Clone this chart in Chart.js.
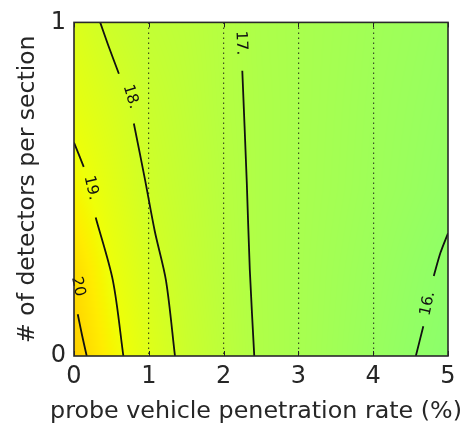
<!DOCTYPE html>
<html>
<head>
<meta charset="utf-8">
<script src="https://cdn.jsdelivr.net/npm/chart.js@4.4.1/dist/chart.umd.min.js"></script>
<style>
  html, body { margin: 0; padding: 0; background: #ffffff; }
  #wrap { width: 469px; height: 431px; }
</style>
</head>
<body>
<div id="wrap"><canvas id="c" width="469" height="431"></canvas></div>
<script>
// Travel-time surface sampled on a coarse grid (x: penetration rate %, y: detectors per section)
const gridX = [0, 0.5, 1, 1.5, 2, 2.5, 3, 3.5, 4, 4.5, 5];
const gridY = [0, 0.25, 0.5, 0.75, 1];
const zRow0   = [20.35, 19.30, 18.50, 17.86, 17.39, 16.96, 16.73, 16.50, 16.26, 16.03, 15.83];
const zRow025 = [20.00, 18.93, 18.23, 17.72, 17.30, 16.94, 16.74, 16.54, 16.34, 16.13, 15.93];
const zRow05  = [19.25, 18.60, 17.98, 17.61, 17.24, 16.93, 16.76, 16.60, 16.43, 16.27, 16.10];
const zRow075 = [18.75, 18.30, 17.82, 17.50, 17.17, 16.93, 16.77, 16.62, 16.46, 16.32, 16.18];
const zRow1   = [18.40, 17.90, 17.58, 17.40, 17.15, 16.90, 16.77, 16.65, 16.50, 16.38, 16.25];
const zRows = [zRow0, zRow025, zRow05, zRow075, zRow1];

// Contour line pieces (each level is broken where its label sits)
const contour20 = [{x:0.05,y:0.125},{x:0.11,y:0.06},{x:0.17,y:0}];
const contour19a = [{x:0,y:0.64},{x:0.13,y:0.567}];
const contour19b = [{x:0.29,y:0.415},{x:0.52,y:0.226},{x:0.66,y:0}];
const contour18a = [{x:0.35,y:1},{x:0.46,y:0.93},{x:0.60,y:0.846}];
const contour18b = [{x:0.80,y:0.697},{x:0.95,y:0.528},{x:1.08,y:0.374},{x:1.23,y:0.226},{x:1.35,y:0}];
const contour17 = [{x:2.25,y:0.855},{x:2.31,y:0.52},{x:2.35,y:0.26},{x:2.41,y:0}];
const contour16a = [{x:4.57,y:0},{x:4.67,y:0.089}];
const contour16b = [{x:4.81,y:0.24},{x:4.90,y:0.31},{x:5,y:0.368}];

// Contour labels
const labelText  = ['20', '19.', '18.', '17.', '16.'];
const labelX     = [0.053, 0.23, 0.76, 2.233, 4.73];
const labelY     = [0.208, 0.504, 0.777, 0.938, 0.157];
const labelAngle = [78, 77, 73, 88, -78];

const xTicks = [0, 1, 2, 3, 4, 5];
const yTicks = [0, 1];
const xTitle = 'probe vehicle penetration rate (%)';
const yTitle = '# of detectors per section';

const FONT = "'DejaVu Sans', sans-serif";
const TEXT = '#262626';

function jet(t) {
  const seg = (pts) => {
    if (t <= pts[0][0]) return pts[0][1];
    for (let i = 1; i < pts.length; i++) {
      if (t <= pts[i][0]) {
        const [x0, y0] = pts[i - 1], [x1, y1] = pts[i];
        return y0 + (y1 - y0) * (t - x0) / (x1 - x0);
      }
    }
    return pts[pts.length - 1][1];
  };
  const r = seg([[0,0],[0.35,0],[0.66,1],[0.89,1],[1,0.5]]);
  const g = seg([[0,0],[0.125,0],[0.375,1],[0.64,1],[0.91,0],[1,0]]);
  const b = seg([[0,0.5],[0.11,1],[0.34,1],[0.65,0],[1,0]]);
  return [r * 255, g * 255, b * 255];
}
function zToT(z) { return 0.53 + (z - 16.1) * 0.038; }

function locate(arr, v) {
  let i = 0;
  while (i < arr.length - 2 && v > arr[i + 1]) i++;
  const f = Math.min(1, Math.max(0, (v - arr[i]) / (arr[i + 1] - arr[i])));
  return [i, f];
}
function zAt(x, y) {
  const [i, fx] = locate(gridX, x);
  const [j, fy] = locate(gridY, y);
  const a = zRows[j][i], b = zRows[j][i + 1], c = zRows[j + 1][i], d = zRows[j + 1][i + 1];
  return (a * (1 - fx) + b * fx) * (1 - fy) + (c * (1 - fx) + d * fx) * fy;
}

const surfacePlugin = {
  id: 'surface',
  beforeDraw(chart) {
    const {ctx, chartArea: a, scales: {x, y}} = chart;
    const w = Math.round(a.right - a.left), h = Math.round(a.bottom - a.top);
    const img = ctx.createImageData(w, h);
    for (let py = 0; py < h; py++) {
      const yv = y.getValueForPixel(a.top + py + 0.5);
      for (let px = 0; px < w; px++) {
        const xv = x.getValueForPixel(a.left + px + 0.5);
        const [r, g, b] = jet(zToT(zAt(xv, yv)));
        const k = (py * w + px) * 4;
        img.data[k] = r; img.data[k + 1] = g; img.data[k + 2] = b; img.data[k + 3] = 255;
      }
    }
    ctx.putImageData(img, Math.round(a.left), Math.round(a.top));
  },
  afterDatasetsDraw(chart) {
    const {ctx, chartArea: a, scales: {x, y}} = chart;
    ctx.save();
    // contour labels
    ctx.fillStyle = '#111';
    ctx.font = '15.5px ' + FONT;
    ctx.textAlign = 'center';
    ctx.textBaseline = 'middle';
    labelText.forEach((t, i) => {
      ctx.save();
      ctx.translate(x.getPixelForValue(labelX[i]), y.getPixelForValue(labelY[i]));
      ctx.rotate(labelAngle[i] * Math.PI / 180);
      ctx.fillText(t, 0, 0);
      ctx.restore();
    });
    // inward tick marks on top and bottom
    ctx.strokeStyle = '#222';
    ctx.lineWidth = 1;
    xTicks.forEach(v => {
      const px = Math.round(x.getPixelForValue(v)) + 0.5;
      ctx.beginPath();
      ctx.moveTo(px, a.bottom); ctx.lineTo(px, a.bottom - 5);
      ctx.moveTo(px, a.top); ctx.lineTo(px, a.top + 5);
      ctx.stroke();
    });
    // frame
    ctx.strokeStyle = '#2a2a2a';
    ctx.lineWidth = 1.6;
    ctx.strokeRect(a.left, a.top, a.right - a.left, a.bottom - a.top);
    ctx.restore();
  },
  afterDraw(chart) {
    // x-axis title, allowed to run wider than the plot area
    const {ctx, chartArea: a} = chart;
    ctx.save();
    ctx.fillStyle = TEXT;
    ctx.font = '23.8px ' + FONT;
    ctx.textAlign = 'center';
    ctx.textBaseline = 'middle';
    ctx.fillText(xTitle, (a.left + a.right) / 2 - 5, 412);
    ctx.restore();
  }
};

function lineSet(data) {
  return {
    data, showLine: true, borderColor: '#111', borderWidth: 1.8,
    pointRadius: 0, tension: 0.3, fill: false
  };
}

new Chart(document.getElementById('c'), {
  type: 'scatter',
  data: {
    datasets: [contour20, contour19a, contour19b, contour18a, contour18b,
               contour17, contour16a, contour16b].map(lineSet)
  },
  options: {
    responsive: false,
    animation: false,
    events: [],
    layout: { padding: { top: 19, right: 21, left: 0, bottom: 0 } },
    plugins: { legend: { display: false }, tooltip: { enabled: false } },
    scales: {
      x: {
        type: 'linear', min: 0, max: 5,
        afterFit(s) { s.height = 75; },
        afterBuildTicks(s) { s.ticks = xTicks.map(v => ({ value: v })); },
        ticks: { color: TEXT, font: { family: FONT, size: 24 }, padding: 6, maxRotation: 0 },
        grid: {
          drawTicks: false, lineWidth: 1.2,
          color: c => (c.tick && c.tick.value > 0 && c.tick.value < 5) ? 'rgba(20,20,20,0.75)' : 'rgba(0,0,0,0)'
        },
        border: { display: false, dash: [1.5, 3.5] },
        title: { display: false }
      },
      y: {
        type: 'linear', min: 0, max: 1,
        afterFit(s) { s.width = 74; },
        afterBuildTicks(s) { s.ticks = yTicks.map(v => ({ value: v })); },
        ticks: { color: TEXT, font: { family: FONT, size: 24 }, padding: 8 },
        grid: { display: false, drawTicks: false },
        border: { display: false },
        title: { display: true, text: yTitle, color: TEXT,
                 font: { family: FONT, size: 23.5 }, padding: { top: 14, bottom: 0 } }
      }
    }
  },
  plugins: [surfacePlugin]
});
</script>
</body>
</html>
